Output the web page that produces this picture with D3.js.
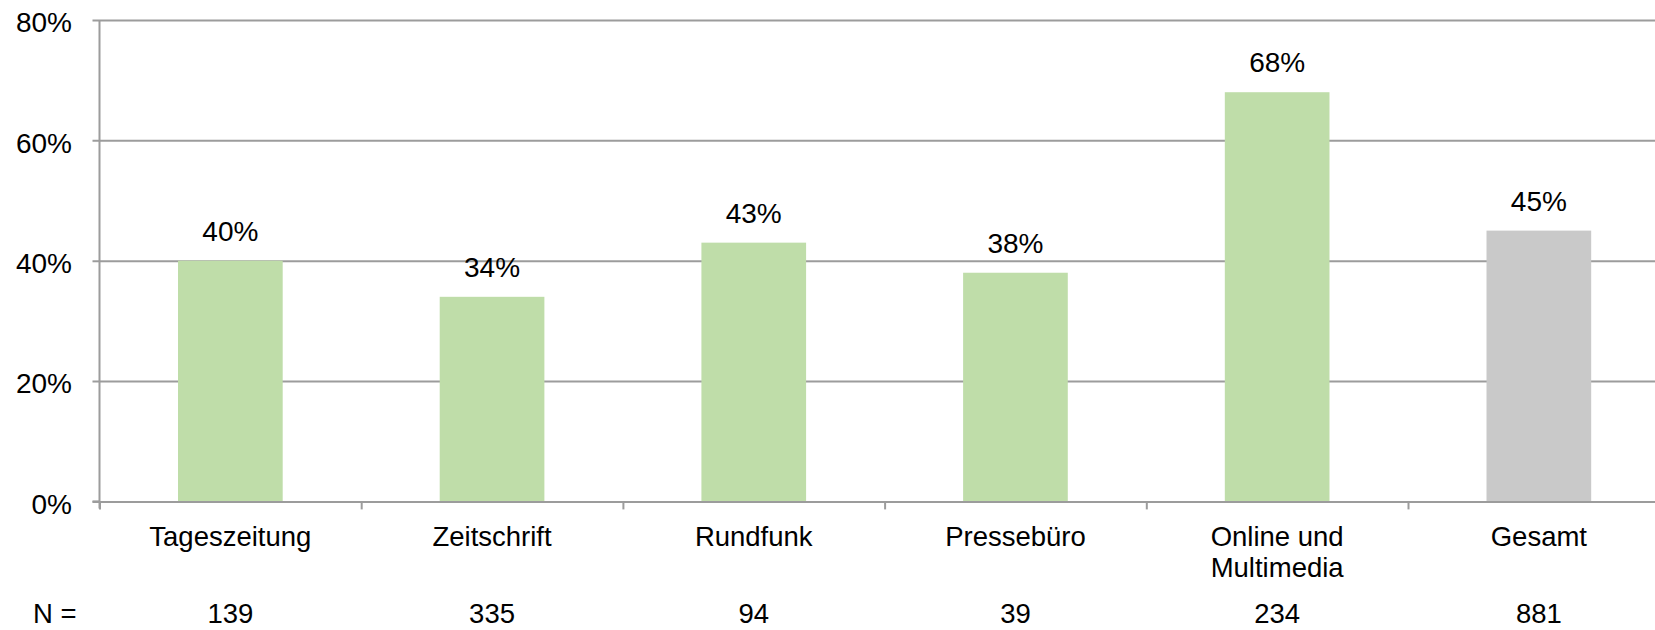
<!DOCTYPE html>
<html>
<head>
<meta charset="utf-8">
<script src="https://cdn.jsdelivr.net/npm/d3@7"></script>
<style>
  html, body { margin: 0; padding: 0; background: #fff; }
  svg { display: block; font-family: "Liberation Sans", Arial, sans-serif; }
</style>
</head>
<body>
<svg id="chart" width="1655" height="630"></svg>
<script>
// Share per media type, with respondent counts (N) shown beneath each category
const categories = ["Tageszeitung", "Zeitschrift", "Rundfunk", "Pressebüro", "Online und\nMultimedia", "Gesamt"];
const shares = [0.40, 0.34, 0.43, 0.38, 0.68, 0.45];
const counts = [139, 335, 94, 39, 234, 881];
const yTicks = [0, 0.2, 0.4, 0.6, 0.8];
const totalCategory = "Gesamt";

const svg = d3.select("#chart");
const fontSize = 28;
const catFontSize = 27.5;
const gridColor = "#9c9c9c";

const plotLeft = 99.5, catWidth = 261.7;
const plotRight = plotLeft + catWidth * categories.length;
const plotTop = 20, plotBottom = 501.4;

const x = d3.scaleBand().domain(categories).range([plotLeft, plotRight]).paddingInner(0.6).paddingOuter(0.3);
const xEdge = d3.scaleLinear().domain([0, categories.length]).range([plotLeft, plotRight]);
const y = d3.scaleLinear().domain([0, 0.8]).range([plotBottom, plotTop]);

// Horizontal gridlines with tick labels on the left
const yAxis = d3.axisLeft(y).tickValues(yTicks).tickFormat(d3.format(".0%"))
  .tickSize(-(plotRight - plotLeft)).tickPadding(27.5);
const gy = svg.append("g").attr("transform", `translate(${plotLeft},0)`).call(yAxis);
gy.select(".domain").remove();
gy.selectAll(".tick line").attr("stroke", gridColor).attr("stroke-width", 2).attr("x1", -7);
gy.selectAll(".tick text").attr("font-size", fontSize).attr("fill", "#000")
  .attr("font-family", "Liberation Sans, Arial, sans-serif").attr("dy", "0.42em");

// Vertical axis line
svg.append("line").attr("x1", plotLeft).attr("x2", plotLeft).attr("y1", plotTop).attr("y2", plotBottom + 7)
  .attr("stroke", gridColor).attr("stroke-width", 2);

// Bars
svg.append("g").selectAll("rect").data(categories).join("rect")
  .attr("x", d => x(d))
  .attr("width", x.bandwidth())
  .attr("y", (d, i) => y(shares[i]))
  .attr("height", (d, i) => y(0) - y(shares[i]))
  .attr("fill", d => d === totalCategory ? "#c9c9c9" : "#bfdda9");

// Baseline axis with category boundary ticks
const xAxis = d3.axisBottom(xEdge).tickValues(d3.range(categories.length + 1)).tickFormat("").tickSize(8).tickSizeOuter(0);
const gx = svg.append("g").attr("transform", `translate(0,${plotBottom})`).call(xAxis);
gx.select(".domain").attr("stroke", gridColor).attr("stroke-width", 2);
gx.selectAll(".tick line").attr("stroke", gridColor).attr("stroke-width", 2);
gx.append("line").attr("x1", plotLeft - 7).attr("x2", plotLeft).attr("stroke", gridColor).attr("stroke-width", 2);

// Value labels above bars
svg.append("g").selectAll("text").data(categories).join("text")
  .attr("x", d => x(d) + x.bandwidth() / 2)
  .attr("y", (d, i) => y(shares[i]) - 20)
  .attr("text-anchor", "middle")
  .attr("font-size", fontSize)
  .text((d, i) => d3.format(".0%")(shares[i]));

// Category labels (may wrap to two lines)
const cat = svg.append("g").selectAll("text").data(categories).join("text")
  .attr("x", d => x(d) + x.bandwidth() / 2)
  .attr("y", 545.5)
  .attr("text-anchor", "middle")
  .attr("font-size", catFontSize);
cat.each(function(d) {
  const t = d3.select(this);
  d.split("\n").forEach((line, k) => {
    t.append("tspan").attr("x", x(d) + x.bandwidth() / 2).attr("dy", k === 0 ? 0 : 31.8).text(line);
  });
});

// N row
svg.append("text").attr("x", 33).attr("y", 623).attr("font-size", catFontSize).text("N =");
svg.append("g").selectAll("text").data(categories).join("text")
  .attr("x", d => x(d) + x.bandwidth() / 2)
  .attr("y", 623)
  .attr("text-anchor", "middle")
  .attr("font-size", catFontSize)
  .text((d, i) => counts[i]);
</script>
</body>
</html>
